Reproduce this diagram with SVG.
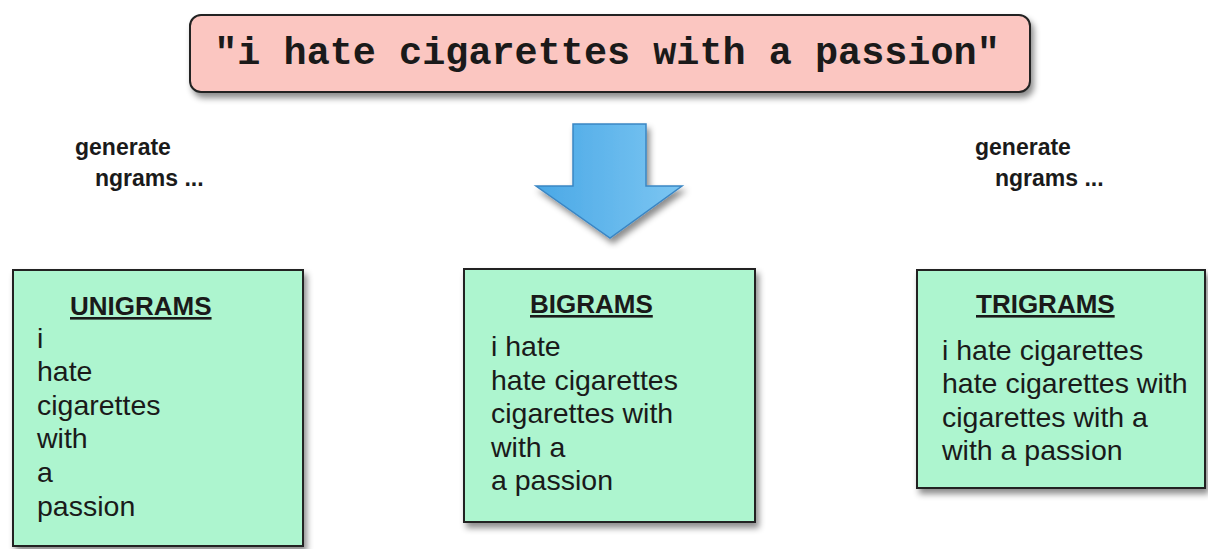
<svg xmlns="http://www.w3.org/2000/svg" width="1208" height="549" viewBox="0 0 1208 549">
<defs>
<filter id="sh" x="-10%" y="-10%" width="125%" height="130%">
<feDropShadow dx="3" dy="5" stdDeviation="3" flood-color="#000" flood-opacity="0.45"/>
</filter>
<linearGradient id="ag" x1="0" y1="0" x2="1" y2="0">
<stop offset="0" stop-color="#4aa8e6"/>
<stop offset="1" stop-color="#7cc6f2"/>
</linearGradient>
<style>
.box{fill:#adf5cf;stroke:#222;stroke-width:2;filter:url(#sh)}
.t{font-family:"Liberation Sans",Arial,sans-serif;font-size:28.5px;fill:#1a1a1a}
.h{font-family:"Liberation Sans",Arial,sans-serif;font-size:26px;font-weight:bold;fill:#1a1a1a;text-decoration:underline}
.g{font-family:"Liberation Sans",Arial,sans-serif;font-size:23px;font-weight:bold;fill:#1a1a1a}
</style>
</defs>
<rect width="1208" height="549" fill="#fff"/>

<g id="sentence">
<rect x="190" y="15" width="840" height="77" rx="11" fill="#fbc6c1" stroke="#222" stroke-width="2" filter="url(#sh)"/>
<text x="607" y="64" text-anchor="middle" font-family="'Liberation Mono','Courier New',monospace" font-weight="bold" font-size="38.5" fill="#1a1a1a">"i hate cigarettes with a passion"</text>
</g>

<g id="connectors">
<path d="M573,124 L646,124 L646,186 L682,186 L610,238 L536,186 L573,186 Z" fill="url(#ag)" stroke="#3a86c4" stroke-width="1.5" filter="url(#sh)"/>
</g>

<g id="label-left">
<text class="g" x="75" y="155">generate</text>
<text class="g" x="95" y="186">ngrams ...</text>
</g>
<g id="label-right">
<text class="g" x="975" y="155">generate</text>
<text class="g" x="995" y="186">ngrams ...</text>
</g>

<g id="unigrams">
<rect class="box" x="13" y="270" width="290" height="276"/>
<text class="h" x="70" y="315">UNIGRAMS</text>
<text class="t" x="37" y="348">i</text>
<text class="t" x="37" y="381">hate</text>
<text class="t" x="37" y="415">cigarettes</text>
<text class="t" x="37" y="448">with</text>
<text class="t" x="37" y="482">a</text>
<text class="t" x="37" y="516">passion</text>
</g>

<g id="bigrams">
<rect class="box" x="464" y="269" width="291" height="253"/>
<text class="h" x="530" y="313">BIGRAMS</text>
<text class="t" x="491" y="356">i hate</text>
<text class="t" x="491" y="390">hate cigarettes</text>
<text class="t" x="491" y="423">cigarettes with</text>
<text class="t" x="491" y="457">with a</text>
<text class="t" x="491" y="490">a passion</text>
</g>

<g id="trigrams">
<rect class="box" x="917" y="270" width="288" height="218"/>
<text class="h" x="976" y="313">TRIGRAMS</text>
<text class="t" x="942" y="360">i hate cigarettes</text>
<text class="t" x="942" y="393">hate cigarettes with</text>
<text class="t" x="942" y="427">cigarettes with a</text>
<text class="t" x="942" y="460">with a passion</text>
</g>
</svg>
